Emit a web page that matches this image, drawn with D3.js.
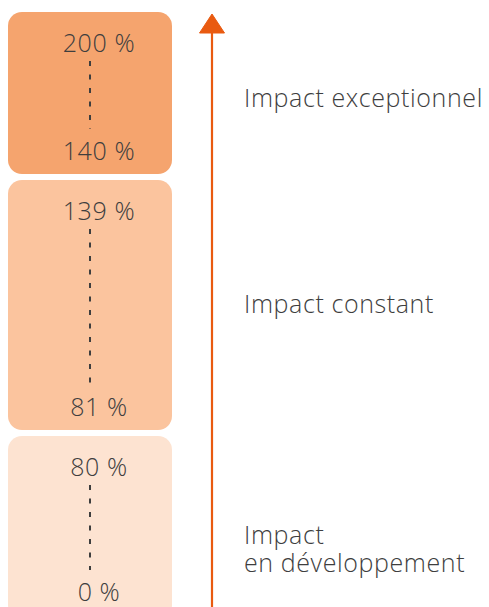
<!DOCTYPE html>
<html>
<head>
<meta charset="utf-8">
<script src="https://cdn.jsdelivr.net/npm/d3@7"></script>
<style>
  html, body { margin: 0; padding: 0; background: #ffffff; }
  svg { display: block; }
</style>
</head>
<body>
<div id="chart"></div>
<script>
// ---- data ----
const categories = ["Impact exceptionnel", "Impact constant", "Impact\nen développement"];
const lowerBounds = [140, 81, 0];
const upperBounds = [200, 139, 80];
const fillColors = ["#f5a46e", "#fbc49e", "#fde3d1"];

// ---- layout ----
const W = 489, H = 607;
const boxX0 = 8, boxX1 = 172;
const gap = 6;
const fontFamily = "'Open Sans', 'DejaVu Sans', sans-serif";
const textColor = "#3e3e3e";
const arrowColor = "#e95a10";
const labelDy = [14, 8, 18];
const fontSize = 25;
const spacing = 0.6;

// piecewise-linear value scale: box boundaries at midpoints between bounds
const boundaryDomain = [0, (upperBounds[2] + lowerBounds[1]) / 2, (upperBounds[1] + lowerBounds[0]) / 2, 200];
const y = d3.scaleLinear().domain(boundaryDomain).range([615, 433, 177, 12]);

const svg = d3.select("#chart").append("svg")
  .attr("width", W).attr("height", H);

const data = categories.map((c, i) => {
  const isTop = i === 0;
  const isBottom = i === categories.length - 1;
  const top = isTop ? y(upperBounds[i]) : y((upperBounds[i] + lowerBounds[i - 1]) / 2) + gap / 2;
  const bottom = isBottom ? y(lowerBounds[i]) : y((lowerBounds[i] + upperBounds[i + 1]) / 2) - gap / 2;
  return { label: c, lo: lowerBounds[i], hi: upperBounds[i], color: fillColors[i], top, bottom, i };
});

const g = svg.selectAll("g.band").data(data).enter().append("g").attr("class", "band");

g.append("rect")
  .attr("x", boxX0)
  .attr("y", d => d.top)
  .attr("width", boxX1 - boxX0)
  .attr("height", d => d.i === 2 ? d.bottom - d.top + 4 : d.bottom - d.top)
  .attr("rx", 14).attr("ry", 14)
  .attr("fill", d => d.color);

const cx = (boxX0 + boxX1) / 2;
g.append("line")
  .attr("x1", cx).attr("x2", cx)
  .attr("y1", d => d.top + 49)
  .attr("y2", d => d.bottom - 45)
  .attr("stroke", textColor)
  .attr("stroke-width", 2)
  .attr("stroke-dasharray", "5,8.5");

g.append("text")
  .attr("x", 99)
  .attr("y", d => d.top + 39.5)
  .attr("text-anchor", "middle")
  .attr("font-family", fontFamily)
  .attr("font-weight", 300)
  .attr("letter-spacing", spacing)
  .attr("font-size", fontSize)
  .attr("fill", textColor)
  .text(d => d.hi + " %");

g.append("text")
  .attr("x", 99)
  .attr("y", d => d.bottom - 14)
  .attr("text-anchor", "middle")
  .attr("font-family", fontFamily)
  .attr("font-weight", 300)
  .attr("letter-spacing", spacing)
  .attr("font-size", fontSize)
  .attr("fill", textColor)
  .text(d => d.lo + " %");

// right labels (one text per line)
g.each(function(d) {
  const lines = d.label.split("\n");
  const mid = (d.top + d.bottom) / 2 + labelDy[d.i];
  lines.forEach((ln, k) => {
    d3.select(this).append("text")
      .attr("x", 244)
      .attr("y", mid + k * 28.5)
      .attr("font-family", fontFamily)
      .attr("font-weight", 300)
      .attr("letter-spacing", spacing)
      .attr("font-size", fontSize)
      .attr("fill", textColor)
      .text(ln);
  });
});

// arrow
const ax = 212;
svg.append("line")
  .attr("x1", ax).attr("x2", ax)
  .attr("y1", 30).attr("y2", H)
  .attr("stroke", arrowColor)
  .attr("stroke-width", 2.2);
svg.append("path")
  .attr("d", d3.line()([[ax, 14], [ax + 12.5, 33], [ax - 12.5, 33]]) + "Z")
  .attr("fill", arrowColor)
  .attr("stroke", arrowColor)
  .attr("stroke-width", 1)
  .attr("stroke-linejoin", "round");
</script>
</body>
</html>
